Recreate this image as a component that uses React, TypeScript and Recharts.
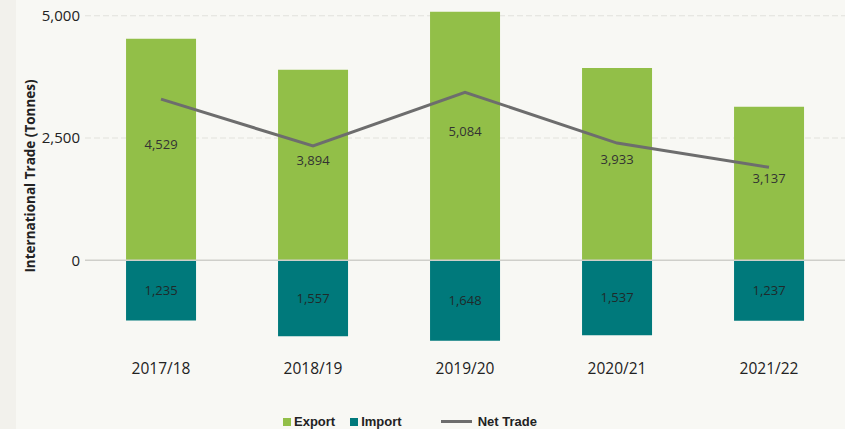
import {
  ComposedChart,
  Bar,
  Line,
  XAxis,
  YAxis,
  CartesianGrid,
  ReferenceLine,
  LabelList,
} from 'recharts'

const years = ['2017/18', '2018/19', '2019/20', '2020/21', '2021/22']
const exports = [4529, 3894, 5084, 3933, 3137]
const imports = [1235, 1557, 1648, 1537, 1237]
const netTrade = [3294, 2337, 3436, 2396, 1900]
const yTicks = [0, 2500, 5000]

const data = years.map((year, i) => ({
  year,
  exportT: exports[i],
  importT: -imports[i],
  net: netTrade[i],
}))

const GREEN = '#92bf48'
const TEAL = '#00797b'
const GREY = '#6d6d6d'
const FONT = '"Open Sans", "Noto Sans", sans-serif'

const fmt = (v: unknown) => Math.abs(Number(v)).toLocaleString('en-US')

function TradeLegend() {
  const item = { display: 'flex', alignItems: 'center', fontWeight: 700, fontSize: 13, color: '#222' }
  return (
    <div
      style={{
        position: 'absolute',
        left: 283,
        top: 414,
        display: 'flex',
        fontFamily: 'Arial, "Liberation Sans", sans-serif',
      }}
    >
      <div style={{ ...item, marginRight: 15 }}>
        <span style={{ width: 8, height: 8, background: GREEN, marginRight: 3 }} />
        Export
      </div>
      <div style={{ ...item, marginRight: 39 }}>
        <span style={{ width: 8, height: 8, background: TEAL, marginRight: 3 }} />
        Import
      </div>
      <div style={item}>
        <span style={{ width: 31, height: 3, background: GREY, marginRight: 6 }} />
        Net Trade
      </div>
    </div>
  )
}

export default function App() {
  return (
    <div style={{ position: 'absolute', left: 0, top: 0, width: 845, height: 429, background: '#f8f8f4', overflow: 'hidden' }}>
      <div style={{ position: 'absolute', left: 0, top: 0, width: 16, height: 429, background: '#f2f1ec' }} />
      <ComposedChart
        width={845}
        height={429}
        data={data}
        stackOffset="sign"
        margin={{ top: 6, right: 0, bottom: 0, left: 16 }}
        barCategoryGap="27%"
        style={{ position: 'absolute', left: 0, top: 0 }}
      >
        <CartesianGrid vertical={false} horizontalValues={[2500, 5000]} stroke="#e2e2dc" strokeDasharray="6 3" />
        <XAxis
          dataKey="year"
          axisLine={false}
          tickLine={false}
          tickSize={0}
          tickMargin={5}
          height={71}
          tick={{ fill: '#222', fontSize: 15.5, fontFamily: FONT }}
        />
        <YAxis
          width={69}
          domain={[-2000, 5200]}
          ticks={yTicks}
          axisLine={false}
          tickLine={false}
          tickSize={0}
          tickMargin={5}
          tickFormatter={(v) => Number(v).toLocaleString('en-US')}
          tick={{ fill: '#222', fontSize: 15, fontFamily: FONT }}
        />
        <ReferenceLine y={0} stroke="#cfcfca" strokeWidth={1.5} />
        <Bar dataKey="exportT" stackId="t" fill={GREEN} isAnimationActive={false}>
          <LabelList
            dataKey="exportT"
            position="center"
            formatter={fmt}
            offset={0}
            style={{ fill: '#333', fontSize: 13, fontFamily: FONT, transform: 'translateY(-5px)' }}
          />
        </Bar>
        <Bar dataKey="importT" stackId="t" fill={TEAL} isAnimationActive={false}>
          <LabelList
            dataKey="importT"
            position="center"
            formatter={fmt}
            style={{ fill: '#1f2a2a', fontSize: 13, fontFamily: FONT }}
          />
        </Bar>
        <Line
          dataKey="net"
          stroke={GREY}
          strokeWidth={3}
          dot={false}
          type="linear"
          isAnimationActive={false}
        />
      </ComposedChart>
      <svg width={845} height={429} style={{ position: 'absolute', left: 0, top: 0, pointerEvents: 'none' }}>
        <text
          x={30}
          y={176}
          transform="rotate(-90 30 176)"
          textAnchor="middle"
          dominantBaseline="central"
          fontFamily={FONT}
          fontWeight={700}
          fontSize={13.5}
          fill="#222"
        >
          International Trade (Tonnes)
        </text>
      </svg>
      <TradeLegend />
    </div>
  )
}
